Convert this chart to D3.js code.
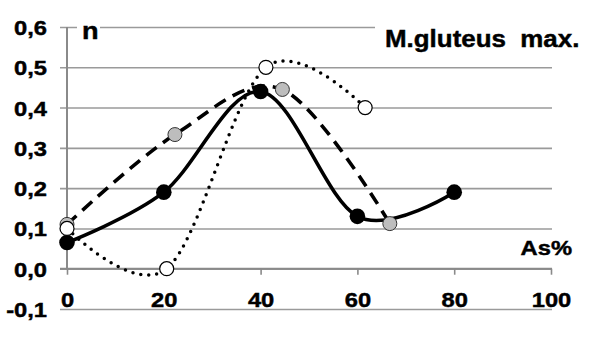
<!DOCTYPE html>
<html>
<head>
<meta charset="utf-8">
<script src="https://cdn.jsdelivr.net/npm/d3@7"></script>
<style>
  html, body { margin: 0; padding: 0; background: #fff; }
  svg { display: block; }
  text { font-family: "Liberation Sans", Arial, sans-serif; font-weight: bold; fill: #000; stroke: #000; stroke-width: 0.45px; }
</style>
</head>
<body>
<svg id="chart" width="592" height="347"></svg>
<script>
// Series: asymmetry (As%) vs. n for M. gluteus maximus
const blackX = [0, 20, 40, 60, 80];
const blackY = [0.065, 0.19, 0.44, 0.13, 0.19];
const grayX = [0, 22.3, 44.5, 66.7];
const grayY = [0.11, 0.333, 0.445, 0.112];
const whiteX = [0, 20.6, 41.1, 61.6];
const whiteY = [0.10, 0.0, 0.50, 0.40];

const xTicks = [0, 20, 40, 60, 80, 100];
const yTicks = [-0.1, 0, 0.1, 0.2, 0.3, 0.4, 0.5, 0.6];
const titleText = "M.gluteus  max.";
const yAxisTitle = "n";
const xAxisTitle = "As%";

const svg = d3.select("#chart");
const STRETCH = 1.13; // wide lettering

const x = d3.scaleLinear().domain([0, 100]).range([67, 551]);
const y = d3.scaleLinear().domain([-0.1, 0.6]).range([309, 27]);

const fmt = t => (t < 0 ? "-" : "") + Math.abs(t).toFixed(1).replace(".", ",");

// horizontal gridlines (with short stubs left of the y axis)
const grid = svg.append("g")
  .attr("transform", "translate(60,0)")
  .call(d3.axisRight(y).tickValues(yTicks).tickSize(x(100) - 60 + 1).tickFormat(""));
grid.select(".domain").remove();
grid.selectAll(".tick line").attr("stroke", "#9a9a9a").attr("stroke-width", 1.6);

// y tick labels
const yLab = svg.append("g")
  .attr("transform", "translate(47,0)")
  .call(d3.axisLeft(y).tickValues(yTicks).tickSize(0).tickPadding(0).tickFormat(fmt));
yLab.select(".domain").remove();
yLab.selectAll(".tick text")
  .attr("x", 0).attr("dy", null).attr("y", 7.5)
  .attr("text-anchor", "end")
  .style("font-size", "21px")
  .attr("transform", `scale(${STRETCH},1)`);

// y axis line (from 0 up to the top)
svg.append("line")
  .attr("x1", x(0)).attr("x2", x(0))
  .attr("y1", y(0.6)).attr("y2", y(0))
  .attr("stroke", "#8a8a8a").attr("stroke-width", 2);

// x axis at y = 0
const xAx = svg.append("g")
  .attr("transform", `translate(0,${y(0)})`)
  .call(d3.axisBottom(x).tickValues(xTicks).tickSize(6).tickFormat(d3.format("d")));
xAx.select(".domain").attr("stroke", "#8a8a8a").attr("stroke-width", 2).attr("d", `M60,0H${x(100) + 1}`);
xAx.selectAll(".tick line").attr("stroke", "#8a8a8a").attr("stroke-width", 1.6);
xAx.selectAll(".tick text")
  .attr("x", 0).attr("y", 38).attr("dy", null)
  .attr("text-anchor", "middle")
  .style("font-size", "21px")
  .attr("transform", `scale(${STRETCH},1)`);

// axis titles with white backing
svg.append("rect").attr("x", 77).attr("y", 16).attr("width", 23).attr("height", 24).attr("fill", "#fff");
svg.append("text")
  .attr("transform", `translate(82,39) scale(${STRETCH},1)`)
  .style("font-size", "24px")
  .text(yAxisTitle);

svg.append("rect").attr("x", 375).attr("y", 14).attr("width", 217).attr("height", 42).attr("fill", "#fff");
svg.append("text")
  .attr("transform", `translate(385,47) scale(1.08,1)`)
  .style("font-size", "24px")
  .style("white-space", "pre")
  .attr("xml:space", "preserve")
  .text(titleText);

svg.append("text")
  .attr("transform", `translate(572,255) scale(${STRETCH},1)`)
  .attr("text-anchor", "end")
  .style("font-size", "21px")
  .text(xAxisTitle);

// series lines
const line = d3.line().x(d => x(d[0])).y(d => y(d[1])).curve(d3.curveCardinal.tension(0));
const blackPts = blackX.map((v, i) => [v, blackY[i]]);
const grayPts = grayX.map((v, i) => [v, grayY[i]]);
const whitePts = whiteX.map((v, i) => [v, whiteY[i]]);

svg.append("path").datum(whitePts).attr("d", line)
  .attr("fill", "none").attr("stroke", "#000").attr("stroke-width", 3.5)
  .attr("stroke-linecap", "round").attr("stroke-dasharray", "0,8");
svg.append("path").datum(grayPts).attr("d", line)
  .attr("fill", "none").attr("stroke", "#000").attr("stroke-width", 3.6)
  .attr("stroke-dasharray", "13,8");
svg.append("path").datum(blackPts).attr("d", line)
  .attr("fill", "none").attr("stroke", "#000").attr("stroke-width", 3.6);

// markers
svg.append("g").selectAll("circle").data(blackPts).join("circle")
  .attr("cx", d => x(d[0])).attr("cy", d => y(d[1])).attr("r", 7.8)
  .attr("fill", "#000");
svg.append("g").selectAll("circle").data(grayPts).join("circle")
  .attr("cx", d => x(d[0])).attr("cy", d => y(d[1])).attr("r", 7)
  .attr("fill", "#bdbdbd").attr("stroke", "#333").attr("stroke-width", 1);
svg.append("g").selectAll("circle").data(whitePts).join("circle")
  .attr("cx", d => x(d[0])).attr("cy", d => y(d[1])).attr("r", 7)
  .attr("fill", "#fff").attr("stroke", "#000").attr("stroke-width", 1.2);
</script>
</body>
</html>
